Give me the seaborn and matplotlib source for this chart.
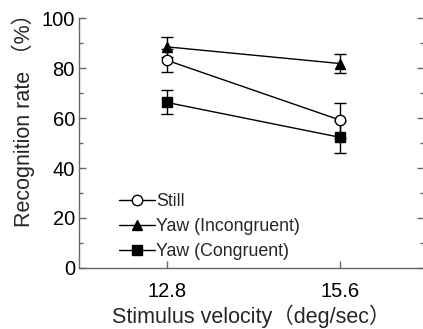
import seaborn as sns
import pandas as pd
import matplotlib.pyplot as plt
from matplotlib.ticker import MultipleLocator

velocity = [12.8, 15.6]
conditions = ['Still', 'Yaw (Incongruent)', 'Yaw (Congruent)']
still = [83.2, 59.2]
yaw_incongruent = [88.6, 81.9]
yaw_congruent = [66.3, 52.3]
still_err = [4.6, 7.0]
yaw_incongruent_err = [4.0, 3.7]
yaw_congruent_err = [4.8, 6.4]

df = pd.DataFrame({
    'velocity': velocity * 3,
    'rate': still + yaw_incongruent + yaw_congruent,
    'err': still_err + yaw_incongruent_err + yaw_congruent_err,
    'condition': [c for c in conditions for _ in velocity],
})

sns.set_style('ticks')
plt.rcParams['font.family'] = ['Liberation Sans', 'Noto Sans CJK JP']

fig = plt.figure(figsize=(4.23, 3.29), dpi=100)
ax = fig.add_axes([0.187, 0.186, 0.815, 0.758])

markers = {'Still': 'o', 'Yaw (Incongruent)': '^', 'Yaw (Congruent)': 's'}
facecolors = {'Still': 'white', 'Yaw (Incongruent)': 'black', 'Yaw (Congruent)': 'black'}

# error bars first so markers sit on top
for c in conditions:
    sub = df[df['condition'] == c]
    ax.errorbar(sub['velocity'], sub['rate'], yerr=sub['err'], fmt='none',
                ecolor='black', elinewidth=1, capsize=4, capthick=1, zorder=2)

for c in conditions:
    sub = df[df['condition'] == c]
    sns.lineplot(data=sub, x='velocity', y='rate', ax=ax, color='black', lw=1,
                 marker=markers[c], markersize=7.5, markerfacecolor=facecolors[c],
                 markeredgecolor='black', markeredgewidth=1, label=c, zorder=3)

ax.set_xlim(11.38, 16.95)
ax.set_ylim(0, 100)
ax.set_xticks(velocity)
ax.set_xticklabels(['12.8', '15.6'])
ax.yaxis.set_major_locator(MultipleLocator(20))
ax.yaxis.set_minor_locator(MultipleLocator(10))
ax.tick_params(axis='both', which='both', direction='in', labelsize=14.5,
               color='#666666', width=1, labelcolor='black')
ax.tick_params(axis='y', which='major', length=5, right=True, pad=3)
ax.tick_params(axis='y', which='minor', length=3, right=True)
ax.tick_params(axis='x', length=5, pad=10)

for side in ['left', 'bottom']:
    ax.spines[side].set_color('#666666')
    ax.spines[side].set_linewidth(1)
ax.spines['top'].set_visible(False)
ax.spines['right'].set_visible(False)

ax.set_xlabel('Stimulus velocity（deg/sec）', fontsize=15.5, labelpad=3)
ax.set_ylabel('Recognition rate （%）', fontsize=15.5)
ax.yaxis.set_label_coords(-0.127, 0.612)

leg = ax.legend(loc='lower left', bbox_to_anchor=(0.08, -0.02), frameon=False,
                fontsize=12.8, handlelength=2.0, handletextpad=0.1,
                labelspacing=0.45, borderaxespad=0.3)

fig.savefig('out.png', dpi=100)
